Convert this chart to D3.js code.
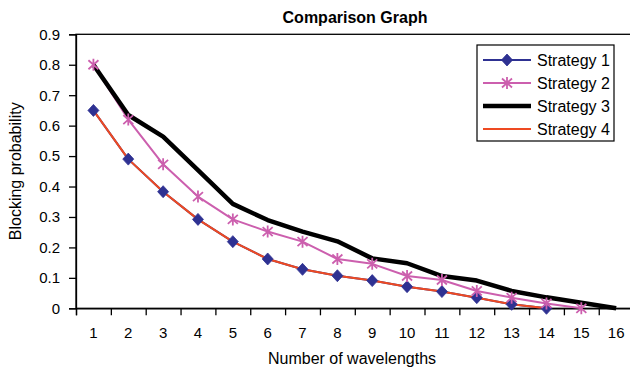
<!DOCTYPE html>
<html>
<head>
<meta charset="utf-8">
<script src="https://cdn.jsdelivr.net/npm/d3@7"></script>
<style>
  body { margin: 0; background: #fff; }
  text { font-family: "Liberation Sans", Arial, sans-serif; fill: #000; }
</style>
</head>
<body>
<div id="chart"></div>
<script>
const categories = ["1", "2", "3", "4", "5", "6", "7", "8", "9", "10", "11", "12", "13", "14", "15", "16"];
const yTicks = [0, 0.1, 0.2, 0.3, 0.4, 0.5, 0.6, 0.7, 0.8, 0.9];
const seriesNames = ["Strategy 1", "Strategy 2", "Strategy 3", "Strategy 4"];

const strategy1 = [0.65, 0.49, 0.383, 0.292, 0.219, 0.162, 0.128, 0.107, 0.091, 0.071, 0.055, 0.035, 0.013, 0];
const strategy2 = [0.8, 0.62, 0.473, 0.367, 0.292, 0.252, 0.219, 0.162, 0.146, 0.106, 0.093, 0.057, 0.035, 0.016, 0];
const strategy3 = [0.8, 0.635, 0.564, 0.454, 0.343, 0.29, 0.252, 0.22, 0.164, 0.148, 0.106, 0.091, 0.057, 0.036, 0.018, 0];
const strategy4 = [0.65, 0.49, 0.383, 0.292, 0.219, 0.162, 0.128, 0.107, 0.091, 0.071, 0.055, 0.035, 0.013, 0];

const width = 630;
const height = 369;
const plot = { left: 76, right: 633.6, top: 34.3, bottom: 308.3 };

const series = [
  { name: seriesNames[0], values: strategy1, colour: "#2e3192", width: 2, marker: "diamond" },
  { name: seriesNames[1], values: strategy2, colour: "#cc5fae", width: 2, marker: "star" },
  { name: seriesNames[2], values: strategy3, colour: "#000000", width: 4.5, marker: null },
  { name: seriesNames[3], values: strategy4, colour: "#ee4a22", width: 2, marker: null }
];

const svg = d3.select("#chart").append("svg")
  .attr("width", width)
  .attr("height", height);

const xScale = d3.scaleBand()
  .domain(categories)
  .range([plot.left, plot.right]);

// used only for the tick marks between categories
const xEdges = d3.scaleLinear()
  .domain([0, categories.length])
  .range([plot.left, plot.right]);

const yScale = d3.scaleLinear()
  .domain([0, 0.9])
  .range([plot.bottom, plot.top]);

// plot frame
svg.append("rect")
  .attr("x", plot.left)
  .attr("y", plot.top)
  .attr("width", plot.right - plot.left)
  .attr("height", plot.bottom - plot.top)
  .attr("fill", "none")
  .attr("stroke", "#000")
  .attr("stroke-width", 1.3);

// y axis
const yAxis = svg.append("g")
  .attr("transform", `translate(${plot.left},0)`)
  .call(d3.axisLeft(yScale)
    .tickValues(yTicks)
    .tickSize(7)
    .tickPadding(9)
    .tickFormat(d => d === 0 ? "0" : d3.format(".1f")(d)));
yAxis.select(".domain").attr("stroke-width", 1.3);
yAxis.selectAll(".tick line").attr("stroke-width", 1.3);
yAxis.selectAll("text").style("font-size", "15px").attr("font-family", null);

// x axis: ticks between categories, labels at centers
const xTickAxis = svg.append("g")
  .attr("transform", `translate(0,${plot.bottom})`)
  .call(d3.axisBottom(xEdges)
    .ticks(categories.length)
    .tickSize(7)
    .tickFormat(""));
xTickAxis.select(".domain").attr("stroke-width", 1.3);
xTickAxis.selectAll(".tick line").attr("stroke-width", 1.3);

const xLabelAxis = svg.append("g")
  .attr("transform", `translate(0,${plot.bottom})`)
  .call(d3.axisBottom(xScale).tickSize(0).tickPadding(19));
xLabelAxis.select(".domain").remove();
xLabelAxis.selectAll("text").style("font-size", "15px").attr("font-family", null);

// titles
svg.append("text")
  .attr("x", 355)
  .attr("y", 23)
  .attr("text-anchor", "middle")
  .style("font-size", "16px")
  .style("font-weight", "bold")
  .text("Comparison Graph");

svg.append("text")
  .attr("x", 352)
  .attr("y", 364)
  .attr("text-anchor", "middle")
  .style("font-size", "16px")
  .text("Number of wavelengths");

svg.append("text")
  .attr("transform", `translate(21,${(plot.top + plot.bottom) / 2}) rotate(-90)`)
  .attr("text-anchor", "middle")
  .style("font-size", "16px")
  .text("Blocking probability");

// lines first, markers on top
const line = d3.line()
  .x((d, i) => xScale(categories[i]) + xScale.bandwidth() / 2)
  .y(d => yScale(d));

const lines = svg.append("g").attr("class", "lines");
series.forEach(s => {
  lines.append("path")
    .datum(s.values)
    .attr("fill", "none")
    .attr("stroke", s.colour)
    .attr("stroke-width", s.width)
    .attr("stroke-linejoin", "round")
    .attr("d", line);
});

const diamond = "M0,-6L5.5,0L0,6L-5.5,0Z";
const star = "M0,-6V6M-5,-4.5L5,4.5M-5,4.5L5,-4.5";

function drawMarker(g, type, colour) {
  if (type === "diamond") {
    g.append("path").attr("d", diamond).attr("fill", colour).attr("stroke", colour).attr("stroke-width", 0.8);
  } else if (type === "star") {
    g.append("path").attr("d", star).attr("fill", "none").attr("stroke", colour).attr("stroke-width", 1.8);
  }
}

const markers = svg.append("g").attr("class", "markers");
series.filter(s => s.marker).forEach(s => {
  markers.selectAll(null)
    .data(s.values)
    .enter()
    .append("g")
    .attr("transform", (d, i) => `translate(${xScale(categories[i]) + xScale.bandwidth() / 2},${yScale(d)})`)
    .each(function() { drawMarker(d3.select(this), s.marker, s.colour); });
});

// legend
const legend = svg.append("g").attr("class", "legend");
legend.append("rect")
  .attr("x", 477)
  .attr("y", 45)
  .attr("width", 137)
  .attr("height", 96)
  .attr("fill", "#fff")
  .attr("stroke", "#000")
  .attr("stroke-width", 1.2);

const legendItems = legend.selectAll(".legend-item")
  .data(series)
  .enter()
  .append("g")
  .attr("class", "legend-item")
  .attr("transform", (d, i) => `translate(483,${60 + i * 23})`);

legendItems.append("line")
  .attr("x1", 0)
  .attr("x2", 48)
  .attr("stroke", d => d.colour)
  .attr("stroke-width", d => d.width);

legendItems.each(function(d) {
  const g = d3.select(this).append("g").attr("transform", "translate(24,0)");
  drawMarker(g, d.marker, d.colour);
});

legendItems.append("text")
  .attr("x", 54)
  .attr("dy", "0.36em")
  .style("font-size", "16px")
  .text(d => d.name);
</script>
</body>
</html>
